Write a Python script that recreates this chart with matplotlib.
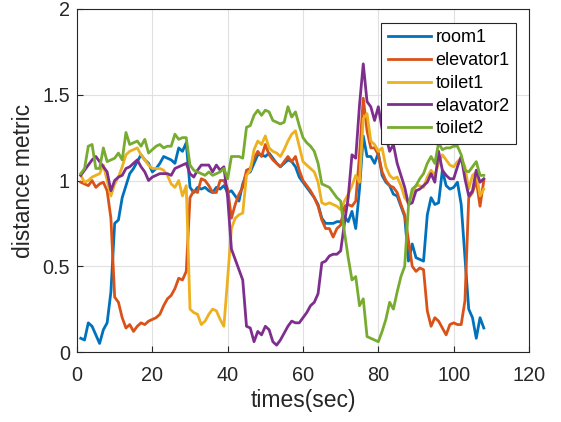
import matplotlib
matplotlib.use("Agg")
import matplotlib.pyplot as plt
import numpy as np

t = list(range(1, 109))

room1 = [0.08, 0.07, 0.17, 0.15, 0.10, 0.05, 0.13, 0.17, 0.35, 0.75,
         0.77, 0.90, 0.97, 1.04, 1.07, 1.11, 1.15, 1.12, 1.10, 1.05,
         1.07, 1.10, 1.14, 1.13, 1.12, 1.10, 1.19, 1.17, 1.22, 0.96,
         0.93, 0.96, 0.95, 0.96, 0.94, 0.93, 0.96, 0.95, 0.97, 0.93,
         0.94, 0.91, 0.88, 0.98, 1.04, 1.05, 1.10, 1.15, 1.15, 1.14,
         1.16, 1.13, 1.10, 1.08, 1.10, 1.12, 1.11, 1.08, 1.02, 0.99,
         0.96, 0.93, 0.90, 0.86, 0.78, 0.75, 0.75, 0.75, 0.76, 0.76,
         0.79, 0.76, 0.82, 0.72, 0.95, 1.26, 1.14, 1.14, 1.10, 1.16,
         1.03, 0.99, 0.97, 0.92, 0.91, 0.85, 0.79, 0.53, 0.63, 0.55,
         0.54, 0.53, 0.80, 0.90, 0.86, 0.87, 1.06, 0.97, 0.95, 0.96,
         0.99, 0.86, 0.55, 0.25, 0.20, 0.08, 0.20, 0.14]

elevator1 = [0.99, 0.98, 0.97, 1.00, 0.96, 0.98, 0.99, 0.94, 0.78, 0.32,
             0.29, 0.20, 0.14, 0.16, 0.12, 0.15, 0.17, 0.16, 0.18, 0.19,
             0.20, 0.22, 0.27, 0.31, 0.33, 0.37, 0.43, 0.42, 0.47, 0.90,
             0.94, 0.93, 1.01, 1.00, 0.97, 0.93, 0.93, 1.00, 1.00, 0.95,
             0.78, 0.86, 0.92, 0.96, 1.06, 1.07, 1.13, 1.17, 1.14, 1.21,
             1.15, 1.12, 1.10, 1.08, 1.11, 1.14, 1.11, 1.14, 1.06, 1.00,
             0.97, 0.94, 0.90, 0.85, 0.77, 0.72, 0.72, 0.67, 0.72, 0.74,
             0.85, 0.86, 0.85, 0.88, 1.15, 1.48, 1.29, 1.19, 1.19, 1.15,
             1.05, 1.00, 0.97, 0.96, 0.93, 0.86, 0.80, 0.65, 0.50, 0.47,
             0.49, 0.48, 0.24, 0.15, 0.20, 0.18, 0.14, 0.10, 0.16, 0.17,
             0.16, 0.16, 0.30, 0.90, 0.93, 1.00, 0.85, 1.00]

toilet1 = [1.03, 0.99, 1.00, 1.02, 1.03, 1.04, 1.09, 1.00, 0.91, 0.98,
           1.02, 1.08, 1.15, 1.17, 1.18, 1.19, 1.15, 1.12, 1.09, 1.07,
           1.07, 1.07, 1.06, 1.03, 0.98, 0.96, 1.00, 0.91, 0.97, 0.25,
           0.23, 0.22, 0.16, 0.18, 0.22, 0.25, 0.24, 0.19, 0.15, 0.43,
           0.72, 0.78, 0.80, 0.81, 1.03, 1.06, 1.18, 1.23, 1.21, 1.26,
           1.19, 1.17, 1.16, 1.14, 1.18, 1.23, 1.27, 1.29, 1.20, 1.11,
           1.09, 1.07, 1.05, 0.99, 0.87, 0.86, 0.87, 0.86, 0.85, 0.83,
           0.88, 0.92, 0.97, 1.03, 0.99, 1.36, 1.39, 1.23, 1.21, 1.17,
           1.19, 1.08, 1.03, 1.01, 1.02, 0.97, 0.90, 0.87, 0.92, 0.97,
           0.97, 0.96, 1.02, 1.06, 1.03, 1.10, 1.15, 1.12, 1.09, 1.08,
           1.11, 1.13, 1.08, 0.95, 1.03, 1.05, 0.91, 0.95]

elavator2 = [1.03, 1.06, 1.09, 1.12, 1.14, 1.11, 1.08, 1.05, 0.94, 1.00,
             1.02, 1.03, 1.07, 1.08, 1.10, 1.12, 1.08, 1.05, 1.00, 1.02,
             1.03, 1.04, 1.04, 1.04, 1.03, 1.07, 1.08, 1.09, 1.10, 1.04,
             1.02, 1.06, 1.09, 1.09, 1.09, 1.05, 1.09, 1.06, 1.08, 0.90,
             0.60, 0.54, 0.48, 0.42, 0.15, 0.14, 0.06, 0.12, 0.10, 0.15,
             0.13, 0.06, 0.04, 0.07, 0.11, 0.15, 0.18, 0.17, 0.17, 0.20,
             0.23, 0.27, 0.29, 0.34, 0.52, 0.53, 0.56, 0.57, 0.57, 0.59,
             0.75, 0.90, 1.15, 1.13, 1.44, 1.68, 1.46, 1.43, 1.35, 1.43,
             1.30, 1.26, 1.17, 1.21, 1.10, 1.03, 0.96, 0.86, 0.87, 0.94,
             0.95, 0.97, 0.99, 1.04, 0.99, 1.17, 1.06, 1.03, 1.01, 1.01,
             1.08, 1.14, 1.01, 0.91, 0.94, 1.06, 0.99, 1.01]

toilet2 = [1.04, 1.07, 1.20, 1.21, 1.07, 1.07, 1.19, 1.11, 1.12, 1.13,
           1.16, 1.12, 1.28, 1.21, 1.22, 1.23, 1.20, 1.24, 1.16, 1.18,
           1.20, 1.21, 1.19, 1.20, 1.20, 1.27, 1.24, 1.25, 1.25, 1.09,
           1.06, 1.05, 1.04, 1.03, 1.05, 1.03, 1.04, 1.05, 1.07, 1.01,
           1.14, 1.14, 1.14, 1.13, 1.31, 1.32, 1.38, 1.41, 1.38, 1.41,
           1.40, 1.35, 1.34, 1.33, 1.34, 1.43, 1.37, 1.40, 1.32, 1.25,
           1.22, 1.20, 1.17, 1.10, 0.98, 0.97, 0.96, 0.93, 0.90, 0.88,
           0.70, 0.55, 0.42, 0.44, 0.27, 0.31, 0.09, 0.08, 0.07, 0.06,
           0.12, 0.19, 0.29, 0.25, 0.35, 0.44, 0.50, 0.85, 0.95, 0.97,
           1.01, 1.04, 1.10, 1.14, 1.10, 1.22, 1.18, 1.19, 1.19, 1.20,
           1.20, 1.15, 1.06, 1.05, 1.08, 1.11, 1.03, 1.03]

series_names = ["room1", "elevator1", "toilet1", "elavator2", "toilet2"]
series_vals = [room1, elevator1, toilet1, elavator2, toilet2]
colors = ["#0072BD", "#D95319", "#EDB120", "#7E2F8E", "#77AC30"]

xticks = [0, 20, 40, 60, 80, 100, 120]
yticks = [0, 0.5, 1, 1.5, 2]
yticklabels = ["0", "0.5", "1", "1.5", "2"]

plt.rcParams["font.family"] = ["Liberation Sans", "DejaVu Sans"]
fig = plt.figure(figsize=(5.61, 4.22), dpi=100)
ax = fig.add_axes([77/561, 1-352/422, 452/561, 343/422])

for name, vals, c in zip(series_names, series_vals, colors):
    ax.plot(t, vals, color=c, lw=2.0, label=name)

ax.set_xlim(0, 120)
ax.set_ylim(0, 2)
ax.set_xticks(xticks)
ax.set_yticks(yticks)
ax.set_yticklabels(yticklabels)
ax.grid(True, color="#e0e0e0", lw=0.8)
ax.set_axisbelow(True)
edge = "#262626"
for s in ax.spines.values():
    s.set_color(edge)
    s.set_linewidth(0.8)
ax.tick_params(direction="in", length=4, width=0.8, colors=edge, labelsize=14.3,
               top=False, right=False)
ax.tick_params(axis="x", pad=10)
ax.tick_params(axis="y", pad=5)
for lab in ax.get_xticklabels() + ax.get_yticklabels():
    lab.set_color(edge)
ax.set_xlabel("times(sec)", fontsize=16.5, color=edge, labelpad=3)
ax.set_ylabel("distance metric", fontsize=16.5, color=edge, labelpad=5)

leg = ax.legend(loc="upper right", bbox_to_anchor=((516-77)/452, (352-23)/343),
                borderaxespad=0, fontsize=13, frameon=True, fancybox=False,
                edgecolor=edge, handlelength=2.4, handletextpad=0.25,
                labelspacing=0.32, borderpad=0.35, framealpha=1)
leg.get_frame().set_linewidth(0.8)

fig.savefig("out.png", dpi=100)
